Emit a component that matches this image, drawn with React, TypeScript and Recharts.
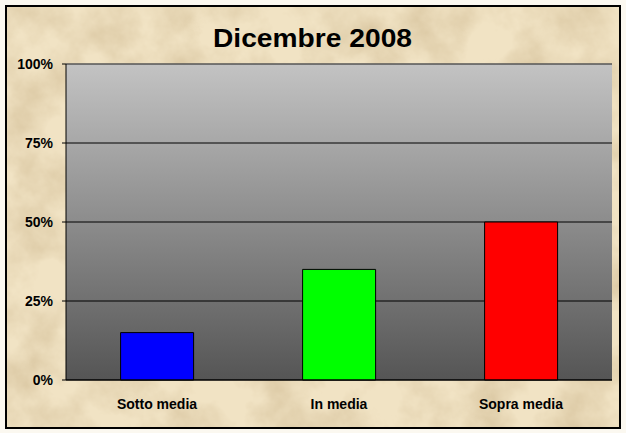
import { BarChart, Bar, Cell, XAxis, YAxis, CartesianGrid, ReferenceLine } from "recharts";

const categories = ["Sotto media", "In media", "Sopra media"];
const values = [15, 35, 50];
const barColors = ["#0000ff", "#00ff00", "#ff0000"];
const yTicks = [0, 25, 50, 75, 100];
const boundaryTicks = [0, 1, 2, 3];

const data = categories.map((name, i) => ({ name, value: values[i] }));

const font = "'Liberation Sans', Arial, sans-serif";

function CategoryTick({ x, y, payload }) {
  return (
    <text x={x} y={y + 21} textAnchor="middle" fontFamily={font} fontWeight="bold" fontSize={14} fill="#000">
      {payload.value}
    </text>
  );
}

function Parchment() {
  return (
    <svg width={612} height={420} style={{ position: "absolute", left: 0, top: 0 }}>
      <defs>
        <filter id="paper" x="0" y="0" width="100%" height="100%">
          <feTurbulence type="fractalNoise" baseFrequency="0.02" numOctaves={5} seed={7} />
          <feColorMatrix
            type="matrix"
            values="0 0 0 0 0.70  0 0 0 0 0.57  0 0 0 0 0.36  1.9 0 0 0 -0.72"
          />
        </filter>
      </defs>
      <rect width="100%" height="100%" fill="#f1e3c4" />
      <rect width="100%" height="100%" filter="url(#paper)" />
    </svg>
  );
}

export default function App() {
  return (
    <div style={{ position: "absolute", left: 0, top: 0, width: 626, height: 433, background: "#fbf8f0" }}>
      <div
        style={{
          position: "absolute",
          left: 5,
          top: 5,
          width: 616,
          height: 424,
          boxSizing: "border-box",
          border: "2px solid #000",
          overflow: "hidden",
        }}
      >
        <Parchment />
      </div>
      <svg width={626} height={433} style={{ position: "absolute", left: 0, top: 0 }}>
        <text
          x={312.5}
          y={47}
          textAnchor="middle"
          fontFamily={font}
          fontWeight="bold"
          fontSize={25}
          textLength={199}
          lengthAdjust="spacingAndGlyphs"
          fill="#000"
        >
          Dicembre 2008
        </text>
      </svg>
      <div style={{ position: "absolute", left: 0, top: 0 }}>
        <BarChart
          width={626}
          height={433}
          data={data}
          margin={{ top: 64, right: 14, bottom: 0, left: 0 }}
          barCategoryGap="30%"
        >
          <defs>
            <linearGradient id="plotGrad" x1="0" y1="0" x2="0" y2="1">
              <stop offset="0%" stopColor="#c3c3c3" />
              <stop offset="100%" stopColor="#555555" />
            </linearGradient>
          </defs>
          <CartesianGrid vertical={false} stroke="#000" strokeOpacity={1} fill="url(#plotGrad)" fillOpacity={1} />
          <XAxis
            xAxisId="b"
            type="number"
            domain={[0, 3]}
            ticks={boundaryTicks}
            height={0}
            tick={false}
            tickSize={5}
            axisLine={false}
            tickLine={{ stroke: "#000" }}
          />
          <XAxis
            dataKey="name"
            height={53}
            tickLine={false}
            axisLine={{ stroke: "#000" }}
            tick={CategoryTick}
            interval={0}
          />
          <YAxis
            width={66}
            domain={[0, 100]}
            ticks={yTicks}
            tickFormatter={(v) => `${v}%`}
            tickSize={4}
            tickMargin={9}
            axisLine={{ stroke: "#000" }}
            tickLine={{ stroke: "#000" }}
            tick={{ fontFamily: font, fontWeight: "bold", fontSize: 14, fill: "#000" }}
          />
          <ReferenceLine y={100} stroke="#808080" />
          <ReferenceLine x={3} xAxisId="b" stroke="#a0a0a0" />
          <Bar dataKey="value" stroke="#000" strokeWidth={1} isAnimationActive={false}>
            {data.map((d, i) => (
              <Cell key={d.name} fill={barColors[i]} />
            ))}
          </Bar>
        </BarChart>
      </div>
    </div>
  );
}
